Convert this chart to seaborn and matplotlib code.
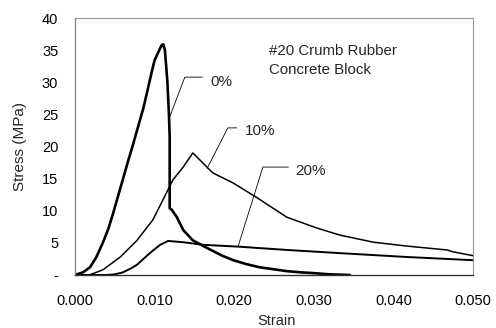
import matplotlib
matplotlib.use("Agg")
import matplotlib.pyplot as plt
import seaborn as sns
import pandas as pd

# Stress-strain curves for #20 crumb rubber concrete blocks
strain_0 = [0.0, 0.0010, 0.0019, 0.0027, 0.0035, 0.0042, 0.0048, 0.0054, 0.0060, 0.0066,
            0.0072, 0.0078, 0.0086, 0.0092, 0.0097, 0.0100, 0.0104, 0.0107, 0.0109,
            0.0111, 0.0113, 0.0116, 0.0118, 0.0119, 0.0119, 0.0122, 0.0128, 0.0136,
            0.0148, 0.0166, 0.0185, 0.0199, 0.0215, 0.0232, 0.0249, 0.0266, 0.0285,
            0.0299, 0.0320, 0.0345]
stress_0 = [0.0, 0.4, 1.2, 2.8, 5.0, 7.2, 9.6, 12.2, 14.8, 17.4,
            19.9, 22.5, 26.0, 29.2, 31.9, 33.4, 34.5, 35.3, 35.8,
            35.9, 35.0, 30.3, 25.2, 21.5, 10.4, 10.1, 9.0, 7.0,
            5.4, 4.2, 3.0, 2.3, 1.7, 1.2, 0.9, 0.6, 0.4,
            0.3, 0.1, 0.0]

strain_10 = [0.0, 0.0019, 0.0035, 0.0057, 0.0078, 0.0098, 0.0115, 0.0123, 0.0136,
             0.0148, 0.0161, 0.0173, 0.0199, 0.0229, 0.0266, 0.0304, 0.0333, 0.0375,
             0.0417, 0.0450, 0.0467, 0.0475, 0.0500]
stress_10 = [0.0, 0.05, 0.8, 2.8, 5.4, 8.6, 12.8, 14.8, 16.8,
             19.0, 17.4, 15.9, 14.3, 12.0, 9.0, 7.3, 6.2, 5.1,
             4.5, 4.1, 3.9, 3.6, 3.0]

strain_20 = [0.0, 0.0040, 0.0050, 0.0060, 0.0070, 0.0078, 0.0094, 0.0107, 0.0117,
             0.0136, 0.0161, 0.0207, 0.0266, 0.0333, 0.0417, 0.0500]
stress_20 = [0.0, 0.0, 0.1, 0.4, 1.0, 1.6, 3.4, 4.7, 5.3,
             5.1, 4.7, 4.4, 3.9, 3.4, 2.8, 2.3]

series_names = ["0%", "10%", "20%"]
x_ticks = [0.0, 0.01, 0.02, 0.03, 0.04, 0.05]
x_tick_labels = ["0.000", "0.010", "0.020", "0.030", "0.040", "0.050"]
y_ticks = [0, 5, 10, 15, 20, 25, 30, 35, 40]
y_tick_labels = ["-", "5", "10", "15", "20", "25", "30", "35", "40"]

frames = []
for name, xs, ys in zip(series_names, [strain_0, strain_10, strain_20],
                        [stress_0, stress_10, stress_20]):
    frames.append(pd.DataFrame({"Strain": xs, "Stress": ys, "Rubber": name}))
df = pd.concat(frames, ignore_index=True)

sns.set_theme(style="white")
plt.rcParams["font.family"] = ["Liberation Sans", "DejaVu Sans"]

fig = plt.figure(figsize=(4.96, 3.28), dpi=100)
ax = fig.add_axes([0.151, 0.1616, 0.803, 0.7834])

widths = {"0%": 1.9, "10%": 1.1, "20%": 1.4}
for name in series_names:
    sub = df[df["Rubber"] == name]
    sns.lineplot(data=sub, x="Strain", y="Stress", sort=False, color="black",
                 linewidth=widths[name], ax=ax, estimator=None)

ax.set_xlim(0, 0.05)
ax.set_ylim(0, 40)
ax.set_xticks(x_ticks)
ax.set_xticklabels(x_tick_labels)
ax.set_yticks(y_ticks)
ax.set_yticklabels(y_tick_labels)
ax.tick_params(axis="both", labelsize=10.5, colors="black")
ax.tick_params(axis="x", direction="inout", length=5, width=0.8, color="#555555", pad=11)
ax.tick_params(axis="y", direction="out", length=3, width=0.8, color="#555555", pad=9)
ax.set_xlabel("Strain", fontsize=10.5)
ax.set_ylabel("Stress (MPa)", fontsize=11)
ax.xaxis.set_label_coords(0.506, -0.152)
ax.yaxis.set_label_coords(-0.121, 0.502)

for side in ["top", "right"]:
    ax.spines[side].set_color("#999999")
    ax.spines[side].set_linestyle((0, (1, 1)))
    ax.spines[side].set_linewidth(0.8)
ax.spines["left"].set_color("#888888")
ax.spines["left"].set_linewidth(1.0)
ax.spines["bottom"].set_color("#333333")
ax.spines["bottom"].set_linestyle((0, (2, 1)))
ax.spines["bottom"].set_linewidth(1.0)

# Leader lines connecting each curve to its label
leaders = {
    "0%": ([0.0119, 0.0138, 0.0160], [24.6, 30.8, 30.8], (0.01696, 29.4)),
    "10%": ([0.0166, 0.0192, 0.0203], [16.6, 22.9, 22.9], (0.02136, 21.8)),
    "20%": ([0.0205, 0.0236, 0.0268], [4.5, 16.8, 16.8], (0.02764, 15.56)),
}
for name, (lx, ly, (tx, ty)) in leaders.items():
    ax.plot(lx, ly, color="black", linewidth=0.6)
    ax.text(tx, ty, name, fontsize=11, va="baseline", ha="left")

ax.text(0.02437, 34.24, "#20 Crumb Rubber", fontsize=10.8, va="baseline", ha="left")
ax.text(0.02437, 31.28, "Concrete Block", fontsize=10.8, va="baseline", ha="left")

fig.savefig("out.png", dpi=100)
